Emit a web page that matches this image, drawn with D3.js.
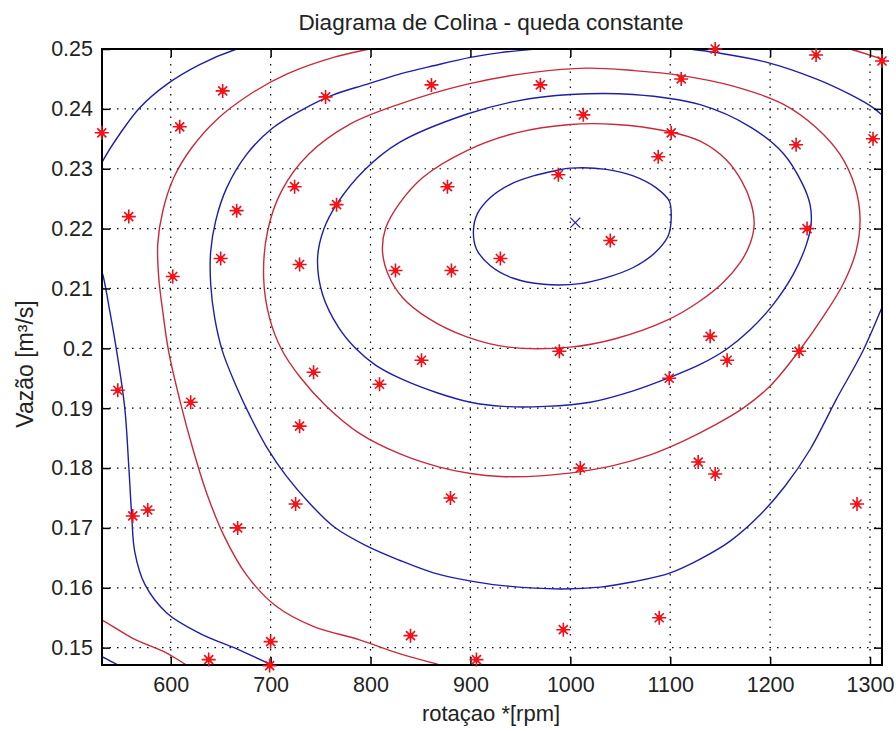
<!DOCTYPE html>
<html>
<head>
<meta charset="utf-8">
<script src="https://cdn.jsdelivr.net/npm/d3@7"></script>
<style>
  body { margin: 0; background: #fff; }
  svg { display: block; font-family: "Liberation Sans", Arial, sans-serif; }
</style>
</head>
<body>
<svg id="chart" width="896" height="731"></svg>
<script>
// Measured points (rotacao, vazao)
const rpm = [531, 558, 609, 652, 666, 724, 755, 766, 861, 877,
    602, 650, 729, 825, 881, 930, 970, 988, 1013, 1040,
    1088, 1101, 1111, 989, 1145, 1246, 1312, 1226, 1303, 1237,
    1140, 1229, 547, 620, 562, 577, 667, 638, 700, 699,
    729, 725, 743, 809, 851, 1099, 880, 1010, 840, 906,
    993, 1089, 1128, 1157, 1145, 1287];
const vazao = [0.236, 0.222, 0.237, 0.243, 0.223, 0.227, 0.242, 0.224, 0.244, 0.227,
    0.212, 0.215, 0.214, 0.213, 0.213, 0.215, 0.244, 0.229, 0.239, 0.218,
    0.232, 0.236, 0.245, 0.1995, 0.250, 0.249, 0.248, 0.234, 0.235, 0.220,
    0.202, 0.1995, 0.193, 0.191, 0.172, 0.173, 0.170, 0.148, 0.151, 0.147,
    0.187, 0.174, 0.196, 0.194, 0.198, 0.195, 0.175, 0.180, 0.152, 0.148,
    0.153, 0.155, 0.181, 0.198, 0.179, 0.174];

// optimum point (blue x)
const optimum = [1005, 0.221];

// contour lines
const contour1 = [[1000,0.2301],[1036,0.2299],[1063,0.2288],[1086,0.2268],[1099,0.2246],[1101,0.2218],
    [1098,0.2188],[1085,0.2160],[1063,0.2135],[1036,0.2118],[1010,0.2108],[973,0.2107],[943,0.2117],
    [920,0.2138],[906,0.2166],[903,0.2196],[907,0.2225],[920,0.2252],[940,0.2274],[963,0.2288],[986,0.2297]];
const contour2 = [[1000,0.2374],[1046,0.2374],[1096,0.2363],[1130,0.2346],[1156,0.2315],[1172,0.2278],
    [1181,0.2242],[1184,0.2207],[1180,0.2175],[1170,0.2143],[1153,0.2110],[1128,0.2077],[1097,0.2047],
    [1045,0.2016],[1000,0.2002],[938,0.2002],[895,0.2020],[858,0.2050],[832,0.2085],[818,0.2122],
    [812,0.2162],[815,0.2200],[829,0.2242],[852,0.2285],[896,0.2330],[946,0.2360]];
const contour3 = [[1000,0.2424],[1063,0.2424],[1130,0.2407],[1180,0.2370],[1213,0.2326],[1232,0.2276],
    [1240,0.2240],[1241,0.2207],[1236,0.2172],[1223,0.2123],[1203,0.2073],[1180,0.2031],[1156,0.1998],
    [1130,0.1973],[1099,0.1951],[1063,0.1929],[1020,0.1910],[975,0.1903],[933,0.1903],[900,0.1910],
    [868,0.1925],[832,0.1948],[805,0.1972],[785,0.2000],[768,0.2035],[752,0.2090],[747,0.2150],
    [753,0.2198],[767,0.2243],[794,0.2298],[829,0.2344],[896,0.2391],[946,0.2413]];
const contour4 = [[1016,0.2468],[1063,0.2464],[1110,0.2456],[1163,0.2438],[1213,0.2408],[1246,0.2369],
    [1270,0.2324],[1285,0.2270],[1290,0.2218],[1286,0.2162],[1273,0.2107],[1254,0.2055],[1230,0.1998],
    [1200,0.1937],[1173,0.1900],[1145,0.1872],[1113,0.1845],[1080,0.1822],[1043,0.1804],[1010,0.1794],
    [970,0.1787],[930,0.1786],[900,0.1791],[868,0.1802],[829,0.1824],[789,0.1858],[756,0.1903],
    [729,0.1953],[711,0.1998],[699,0.2050],[693,0.2118],[697,0.2196],[711,0.2263],[738,0.2324],
    [779,0.2374],[829,0.2408],[896,0.2441],[963,0.2461]];
const contour5a = [[1318,0.2090],[1312,0.2068],[1293,0.1996],[1266,0.1914],[1240,0.1831],[1215,0.1770],
    [1190,0.1722],[1160,0.1678],[1130,0.1648],[1100,0.1625],[1063,0.1610],[1030,0.1601],[990,0.1598],
    [930,0.1604],[898,0.1612],[863,0.1625],[829,0.1646],[796,0.1670],[764,0.1701],[738,0.1743],
    [716,0.1786],[696,0.1835],[680,0.1885],[666,0.1935],[652,0.1994],[644,0.2051],[640,0.2107],
    [640,0.2162],[645,0.2213],[656,0.2268],[676,0.2324],[702,0.2368],[731,0.2398],[762,0.2423],
    [796,0.2441],[829,0.2458],[863,0.2472],[900,0.2486],[930,0.2494],[973,0.2501],[1000,0.2506]];
const contour5b = [[1095,0.2507],[1120,0.2500],[1146,0.2494],[1196,0.2478],[1246,0.2450],[1280,0.2424],
    [1303,0.2402],[1313,0.2388],[1320,0.2378]];
const contour6a = [[830,0.2511],[799,0.2500],[763,0.2486],[716,0.2458],[679,0.2424],[646,0.2382],
    [621,0.2335],[603,0.2285],[592,0.2229],[587,0.2174],[588,0.2118],[592,0.2062],[598,0.1994],
    [609,0.1914],[622,0.1833],[636,0.1758],[653,0.1688],[676,0.1621],[705,0.1570],[742,0.1536],
    [789,0.1513],[829,0.1490],[870,0.1471],[890,0.1462]];
const contour6b = [[1250,0.2512],[1280,0.2500],[1312,0.2483],[1325,0.2475]];
const contour7a = [[690,0.2510],[666,0.2500],[629,0.2474],[596,0.2441],[569,0.2402],[549,0.2358],
    [532,0.2313],[528,0.2298]];
const contour7b = [[528,0.2140],[532,0.2123],[539,0.2062],[546,0.1994],[554,0.1900],[558,0.1803],
    [561,0.1719],[564,0.1660],[574,0.1606],[596,0.1558],[629,0.1524],[669,0.1496],[702,0.1471],
    [720,0.1462]];
const contour8 = [[525,0.1549],[531,0.1546],[562.5,0.1515],[596,0.1491],[616,0.1471],[625,0.1464]];
const contour9 = [[525,0.1489],[531,0.1485],[547,0.1471],[555,0.1464]];

const xTicks = [600, 700, 800, 900, 1000, 1100, 1200, 1300];
const yTicks = [0.15, 0.16, 0.17, 0.18, 0.19, 0.2, 0.21, 0.22, 0.23, 0.24, 0.25];

const blue = '#1e1ea8';
const red = '#c82a3c';

const margin = { top: 49, right: 14, bottom: 66, left: 102 };
const width = 896 - margin.left - margin.right;
const height = 731 - margin.top - margin.bottom;

const svg = d3.select('#chart');
svg.append('rect').attr('width', 896).attr('height', 731).attr('fill', '#fff');

const g = svg.append('g').attr('transform', `translate(${margin.left},${margin.top})`);

const x = d3.scaleLinear().domain([531.2, 1312]).range([0, width]);
const y = d3.scaleLinear().domain([0.1471, 0.25]).range([height, 0]);

svg.append('defs').append('clipPath').attr('id', 'plotClip')
    .append('rect').attr('width', width).attr('height', height);

// Grid
const grid = g.append('g');
grid.selectAll('.gx').data(xTicks).enter().append('line')
    .attr('x1', d => x(d)).attr('x2', d => x(d)).attr('y1', 0).attr('y2', height)
    .attr('stroke', '#000').attr('stroke-width', 1.2).attr('stroke-dasharray', '1.5,6');
grid.selectAll('.gy').data(yTicks).enter().append('line')
    .attr('y1', d => y(d)).attr('y2', d => y(d)).attr('x1', 0).attr('x2', width)
    .attr('stroke', '#000').attr('stroke-width', 1.2).attr('stroke-dasharray', '1.5,6');

// Contours
const line = d3.line().x(d => x(d[0])).y(d => y(d[1])).curve(d3.curveCatmullRom);
const closedLine = d3.line().x(d => x(d[0])).y(d => y(d[1])).curve(d3.curveCatmullRomClosed);
const lines = g.append('g').attr('clip-path', 'url(#plotClip)').attr('fill', 'none').attr('stroke-width', 1.4);

[[contour1, blue], [contour2, red], [contour3, blue], [contour4, red]].forEach(([pts, col]) => {
    lines.append('path').attr('d', closedLine(pts)).attr('stroke', col);
});
[[contour5a, blue], [contour5b, blue], [contour6a, red], [contour6b, red],
 [contour7a, blue], [contour7b, blue], [contour8, red], [contour9, blue]].forEach(([pts, col]) => {
    lines.append('path').attr('d', line(pts)).attr('stroke', col);
});

// Axes
const fontSize = '21.5px';
const xAxis = g.append('g').attr('transform', `translate(0,${height})`)
    .call(d3.axisBottom(x).tickValues(xTicks).tickSize(-8).tickPadding(12).tickFormat(d3.format('d')));
const yAxis = g.append('g')
    .call(d3.axisLeft(y).tickValues(yTicks).tickSize(-8).tickPadding(9).tickFormat(d => String(+d.toFixed(2))));
const xTop = g.append('g').call(d3.axisTop(x).tickValues(xTicks).tickSize(-8).tickFormat(''));
const yRight = g.append('g').attr('transform', `translate(${width},0)`)
    .call(d3.axisRight(y).tickValues(yTicks).tickSize(-8).tickFormat(''));
[xAxis, yAxis, xTop, yRight].forEach(a => {
    a.select('.domain').remove();
    a.selectAll('.tick line').attr('stroke', '#000').attr('stroke-width', 1.5);
    a.selectAll('text').attr('fill', '#222').style('font-size', fontSize)
        .style('font-family', '"Liberation Sans", Arial, sans-serif');
});

g.append('rect').attr('width', width).attr('height', height)
    .attr('fill', 'none').attr('stroke', '#000').attr('stroke-width', 2);

// Markers (not clipped)
const starPath = 'M-7,0H7M0,-7V7M-4.5,-4.5L4.5,4.5M-4.5,4.5L4.5,-4.5';
const pts = rpm.map((r, i) => [r, vazao[i]]);
const stars = g.selectAll('.star').data(pts).enter().append('g')
    .attr('transform', d => `translate(${x(d[0])},${y(d[1])})`);
stars.append('path').attr('d', starPath).attr('stroke', '#e8101c').attr('stroke-width', 1.6).attr('fill', 'none');
stars.append('circle').attr('r', 2.8).attr('fill', '#ff1010');

g.append('path')
    .attr('transform', `translate(${x(optimum[0])},${y(optimum[1])})`)
    .attr('d', 'M-5,-5L5,5M-5,5L5,-5')
    .attr('stroke', blue).attr('stroke-width', 1.2);

// Labels
svg.append('text').attr('x', 491).attr('y', 30).attr('text-anchor', 'middle')
    .style('font-size', '22.5px').attr('fill', '#222')
    .text('Diagrama de Colina - queda constante');
svg.append('text').attr('x', 491).attr('y', 721).attr('text-anchor', 'middle')
    .style('font-size', '22px').attr('fill', '#222')
    .text('rotaçao *[rpm]');
svg.append('text').attr('transform', 'translate(33,364) rotate(-90)').attr('text-anchor', 'middle')
    .style('font-size', '23px').attr('fill', '#222')
    .text('Vazão [m³/s]');
</script>
</body>
</html>
